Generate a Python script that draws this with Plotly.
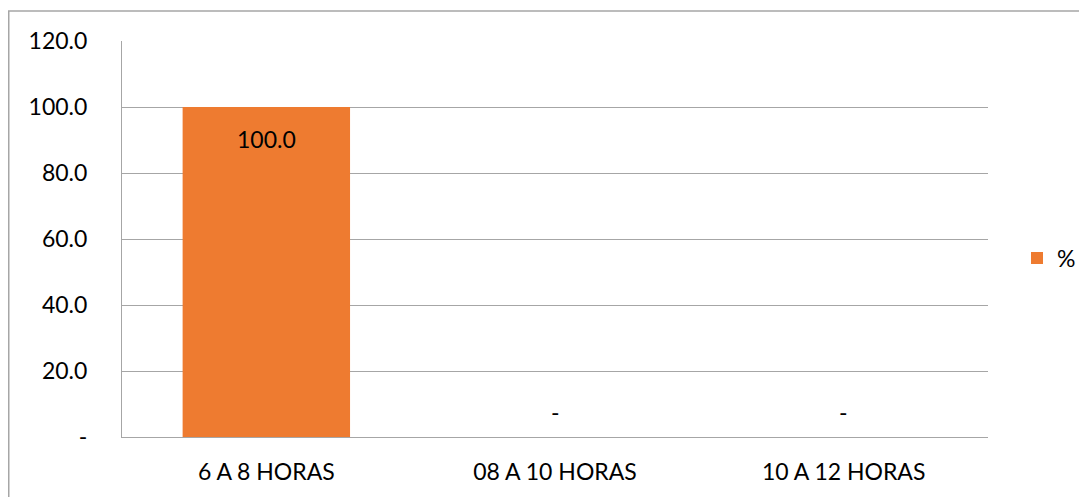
import plotly.graph_objects as go

categories = ["6 A 8 HORAS", "08 A 10 HORAS", "10 A 12 HORAS"]
values = [100.0, 0.0, 0.0]
series_name = "%"
y_tickvals = [0, 20, 40, 60, 80, 100, 120]
y_ticktext = ["-", "20.0", "40.0", "60.0", "80.0", "100.0", "120.0"]

FONT = "Lato"
FS = 23
fig = go.Figure()
fig.add_trace(go.Bar(
    x=categories, y=values, name=series_name,
    marker=dict(color="#EE7B30", line=dict(width=0)),
    width=0.58, showlegend=True,
))

for c, v in zip(categories, values):
    fig.add_annotation(
        x=c, y=v, xref="x", yref="y",
        text=f"{v:.1f}" if v != 0 else "-",
        showarrow=False, yanchor="middle",
        yshift=-32 if v != 0 else 25,
        font=dict(family=FONT, size=FS, color="#000000"),
    )

# page body has an 8px margin; figure coordinates are screen minus 8
W, H = 1079, 489
L, R, T, B = 114, 99, 33, 60
pw, ph = W - L - R, H - T - B
def px(x): return (x - L) / pw
def py(y): return (H - B - y) / ph
fig.add_shape(type="rect", xref="paper", yref="paper",
              x0=px(0.75), x1=px(1095), y0=py(500), y1=py(3),
              line=dict(color="#A6A6A6", width=1.5), fillcolor="rgba(0,0,0,0)", layer="below")

fig.update_layout(
    width=W, height=H,
    margin=dict(l=L, r=R, t=T, b=B, autoexpand=False),
    paper_bgcolor="white", plot_bgcolor="white",
    font=dict(family=FONT, size=FS, color="#000000"),
    bargap=0.42,
    legend=dict(xref="container", yref="container", x=1009 / W, y=(H - 250) / H,
                xanchor="left", yanchor="middle",
                font=dict(family=FONT, size=FS, color="#000000"),
                bgcolor="rgba(0,0,0,0)", itemwidth=30),
    xaxis=dict(showgrid=False, showline=True, linecolor="#A6A6A6", linewidth=1,
               ticks="", ticklabelstandoff=14, tickfont=dict(size=FS)),
    yaxis=dict(range=[0, 120], tickvals=y_tickvals, ticktext=y_ticktext,
               showgrid=True, gridcolor="#A6A6A6", gridwidth=1,
               showline=True, linecolor="#A6A6A6", linewidth=1,
               zeroline=False, ticks="", ticklabelstandoff=29,
               tickfont=dict(size=FS)),
)
fig.write_html("out.html")
